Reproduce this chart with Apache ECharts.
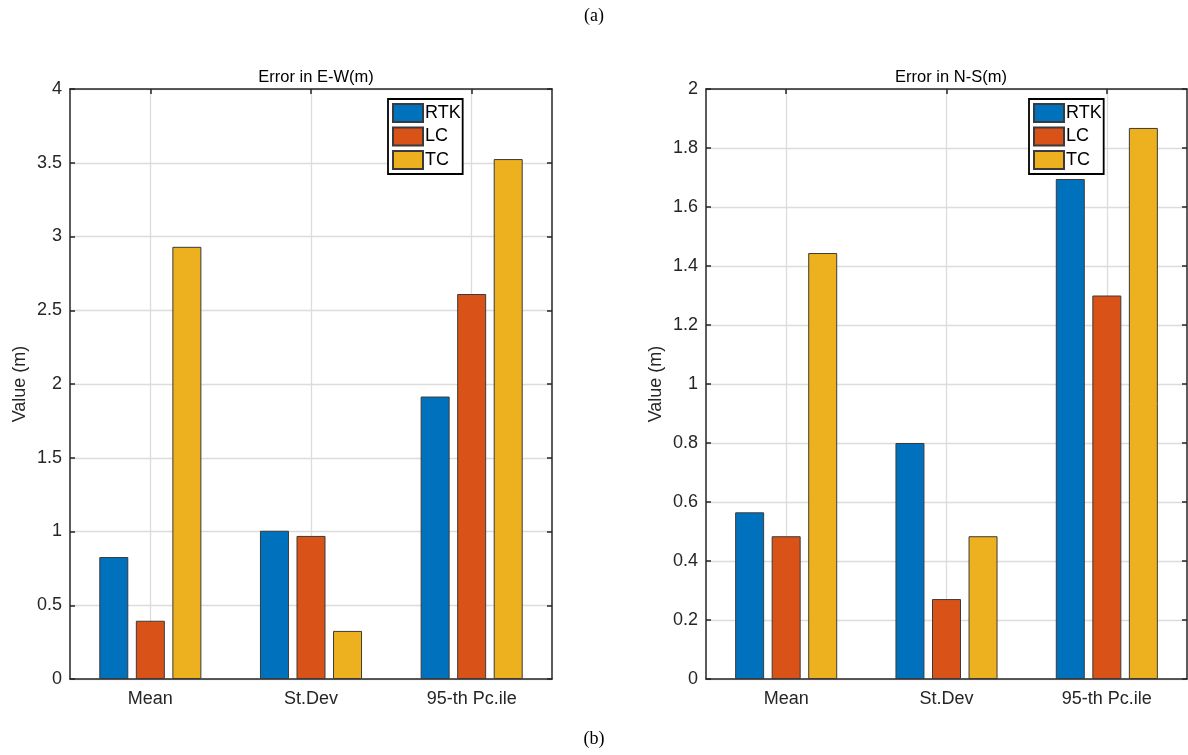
<!DOCTYPE html>
<html>
<head>
<meta charset="utf-8">
<title>Error in E-W / N-S</title>
<script src="https://cdn.jsdelivr.net/npm/echarts@6/dist/echarts.min.js"></script>
<style>
  html, body { margin: 0; padding: 0; background: #fff; }
  #chart { width: 1188px; height: 755px; }
</style>
</head>
<body>
<div id="chart"></div>
<script>
// data
const categories = ['Mean', 'St.Dev', '95-th Pc.ile']
const seriesNames = ['RTK', 'LC', 'TC']
const ewRTK = [0.827, 1.005, 1.915]
const ewLC = [0.395, 0.97, 2.61]
const ewTC = [2.93, 0.326, 3.525]
const nsRTK = [0.565, 0.80, 1.695]
const nsLC = [0.484, 0.271, 1.30]
const nsTC = [1.444, 0.484, 1.868]
const ewTicks = { min: 0, max: 4, interval: 0.5 }
const nsTicks = { min: 0, max: 2, interval: 0.2 }

const colors = ['#0072BD', '#D95319', '#EDB120']
const axisColor = '#262626'
const gridColor = '#dcdcdc'
const font = 'Liberation Sans, Arial, sans-serif'

// helper axis: category centres sit on odd indices -> vertical grid lines like matlab
const helperData = ['']
categories.forEach(c => { helperData.push(c); helperData.push('') })
const oddOnly = (i) => i % 2 === 1

const grids = [
  { left: 70, top: 89, width: 482, height: 590 },
  { left: 706, top: 89, width: 481, height: 590 }
]

const xAxis = []
const yAxis = []
grids.forEach((g, gi) => {
  xAxis.push({
    type: 'category', gridIndex: gi, data: categories,
    axisLine: { lineStyle: { color: axisColor, width: 1.5 } },
    axisTick: { show: false },
    axisLabel: { color: axisColor, fontSize: 18, fontFamily: font, margin: 11 },
    splitLine: { show: false }
  })
  xAxis.push({
    type: 'category', gridIndex: gi, data: helperData, boundaryGap: false, position: 'top',
    axisLine: { show: true, onZero: false, lineStyle: { color: axisColor, width: 1.5 } },
    axisTick: { show: true, inside: true, length: 5, interval: oddOnly, lineStyle: { color: axisColor, width: 1.5 } },
    axisLabel: { show: false },
    splitLine: { show: true, interval: oddOnly, lineStyle: { color: gridColor, width: 1.3 } }
  })
  // bottom ticks at category centres
  xAxis.push({
    type: 'category', gridIndex: gi, data: helperData, boundaryGap: false, position: 'bottom',
    axisLine: { show: false },
    axisTick: { show: true, inside: true, length: 5, interval: oddOnly, lineStyle: { color: axisColor, width: 1.5 } },
    axisLabel: { show: false },
    splitLine: { show: false }
  })
  const t = gi === 0 ? ewTicks : nsTicks
  yAxis.push({
    type: 'value', gridIndex: gi, position: 'left', min: t.min, max: t.max, interval: t.interval,
    name: 'Value (m)', nameLocation: 'middle', nameGap: 41, nameRotate: 90,
    nameTextStyle: { color: axisColor, fontSize: 18, fontFamily: font },
    axisLine: { show: true, lineStyle: { color: axisColor, width: 1.5 } },
    axisTick: { show: true, inside: true, length: 5, lineStyle: { color: axisColor, width: 1.5 } },
    axisLabel: { color: axisColor, fontSize: 18, fontFamily: font, margin: 8 },
    splitLine: { show: true, lineStyle: { color: gridColor, width: 1.3 } }
  })
  yAxis.push({
    type: 'value', gridIndex: gi, position: 'right', min: t.min, max: t.max, interval: t.interval,
    axisLine: { show: true, lineStyle: { color: axisColor, width: 1.5 } },
    axisTick: { show: true, inside: true, length: 5, lineStyle: { color: axisColor, width: 1.5 } },
    axisLabel: { show: false },
    splitLine: { show: false }
  })
})

const panelData = [[ewRTK, ewLC, ewTC], [nsRTK, nsLC, nsTC]]
const series = []
panelData.forEach((arrs, gi) => {
  arrs.forEach((vals, si) => {
    series.push({
      name: seriesNames[si],
      type: 'bar',
      xAxisIndex: gi * 3,
      yAxisIndex: gi * 2,
      data: vals,
      barWidth: 29,
      barGap: '26%',
      itemStyle: { color: colors[si], borderColor: '#3a3a3a', borderWidth: 1 },
      emphasis: { disabled: true }
    })
  })
})

const legendBase = {
  data: seriesNames.map(n => ({ name: n, icon: 'rect' })),
  orient: 'vertical', top: 99,
  itemWidth: 30, itemHeight: 18, itemGap: 3.5, padding: [4, 2, 4, 4],
  borderColor: '#000', borderWidth: 1.8, backgroundColor: '#fff',
  textStyle: { color: '#000', fontSize: 18, fontFamily: font, padding: [0, 0, 0, -3] },
  selectedMode: false
}

var myChart = echarts.init(document.getElementById('chart'))
myChart.setOption({
  animation: false,
  backgroundColor: '#fff',
  title: [
    { text: 'Error in E-W(m)', left: 311, top: 64, textAlign: 'center',
      textStyle: { fontSize: 16.5, fontWeight: 'normal', color: '#000', fontFamily: font } },
    { text: 'Error in N-S(m)', left: 946, top: 64, textAlign: 'center',
      textStyle: { fontSize: 16.5, fontWeight: 'normal', color: '#000', fontFamily: font } }
  ],
  legend: [
    Object.assign({}, legendBase, { left: 388 }),
    Object.assign({}, legendBase, { left: 1029 })
  ],
  grid: grids,
  xAxis: xAxis,
  yAxis: yAxis,
  series: series,
  graphic: [
    { type: 'text', left: 'center', top: 7,
      style: { text: '(a)', fontSize: 18, fontFamily: 'Liberation Serif, Times New Roman, serif', fill: '#000' } },
    { type: 'text', left: 'center', top: 730,
      style: { text: '(b)', fontSize: 18, fontFamily: 'Liberation Serif, Times New Roman, serif', fill: '#000' } }
  ]
})
</script>
</body>
</html>
